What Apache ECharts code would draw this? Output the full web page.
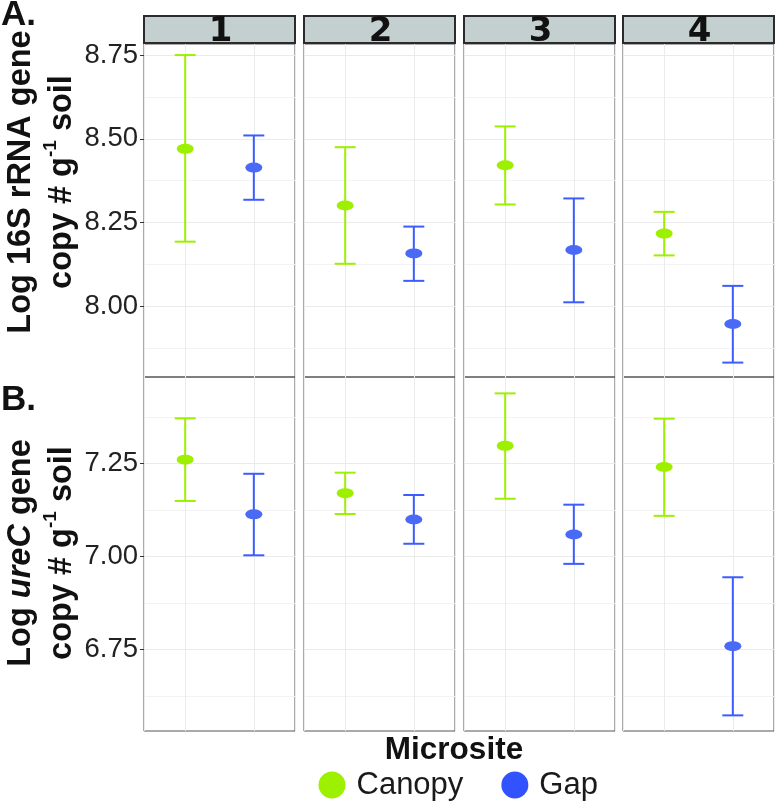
<!DOCTYPE html>
<html><head><meta charset="utf-8">
<script src="https://cdn.jsdelivr.net/npm/echarts@6/dist/echarts.min.js"></script>
<style>html,body{margin:0;padding:0;background:#fff}#c{width:780px;height:801px}</style>
</head><body><div id="c"></div>
<script>
// ---- data ----
const facets = ['1', '2', '3', '4'];
const microsites = ['Canopy', 'Gap'];
const micrositeX = [1, 2];

// Log 16S rRNA gene copy # g-1 soil
const rrnaCanopyMean  = [8.470, 8.301, 8.421, 8.217];
const rrnaCanopyLower = [8.193, 8.127, 8.304, 8.152];
const rrnaCanopyUpper = [8.750, 8.475, 8.537, 8.282];
const rrnaGapMean     = [8.414, 8.158, 8.168, 7.947];
const rrnaGapLower    = [8.318, 8.076, 8.012, 7.832];
const rrnaGapUpper    = [8.510, 8.238, 8.322, 8.061];

// Log ureC gene copy # g-1 soil
const ureCanopyMean  = [7.260, 7.170, 7.297, 7.240];
const ureCanopyLower = [7.149, 7.114, 7.155, 7.109];
const ureCanopyUpper = [7.371, 7.225, 7.438, 7.370];
const ureGapMean     = [7.113, 7.099, 7.059, 6.759];
const ureGapLower    = [7.003, 7.034, 6.980, 6.573];
const ureGapUpper    = [7.222, 7.165, 7.139, 6.944];

const rrnaTicks = [8.00, 8.25, 8.50, 8.75];
const ureTicks  = [6.75, 7.00, 7.25];

// ---- layout / style ----
const FONT = "'Liberation Sans', Arial, sans-serif";
const colLeft = [144, 304, 464, 623];
const colWidth = 151;
const rowTop = [44, 377];
const rowHeight = [333, 354];
const rowRange = [[7.789, 8.783], [6.531, 7.482]];
const stripTop = 16, stripHeight = 27;
const colors = { Canopy: '#9DF000', Gap: '#3D5CFF' };
const pointColors = { Canopy: '#9DF000', Gap: '#4A6AF6' };

const rows = [
  { ticks: rrnaTicks,
    mean: [rrnaCanopyMean, rrnaGapMean],
    lower: [rrnaCanopyLower, rrnaGapLower],
    upper: [rrnaCanopyUpper, rrnaGapUpper] },
  { ticks: ureTicks,
    mean: [ureCanopyMean, ureGapMean],
    lower: [ureCanopyLower, ureGapLower],
    upper: [ureCanopyUpper, ureGapUpper] }
];

const grid = [], xAxis = [], yAxis = [], series = [];
rows.forEach((row, r) => {
  facets.forEach((f, c) => {
    const idx = grid.length;
    grid.push({ left: colLeft[c], top: rowTop[r], width: colWidth, height: rowHeight[r],
      show: true, borderColor: '#555', borderWidth: 1, backgroundColor: 'transparent', containLabel: false });
    xAxis.push({ gridIndex: idx, type: 'value', min: 0.4, max: 2.6, minInterval: 1, maxInterval: 1,
      axisLine: { show: false }, axisTick: { show: false }, axisLabel: { show: false },
      splitLine: { show: true, lineStyle: { color: '#EBEBEB', width: 1 } } });
    yAxis.push({ gridIndex: idx, type: 'value', min: rowRange[r][0], max: rowRange[r][1],
      minInterval: 0.25, maxInterval: 0.25,
      axisLine: { show: false },
      axisTick: { show: c === 0, length: 4, lineStyle: { color: '#333', width: 1 }, customValues: row.ticks },
      axisLabel: { show: c === 0, customValues: row.ticks, formatter: v => v.toFixed(2),
        fontSize: 27.5, color: '#222', margin: 6, fontFamily: FONT },
      splitLine: { show: true, lineStyle: { color: '#EBEBEB', width: 1 } },
      minorTick: { show: false, splitNumber: 2 },
      minorSplitLine: { show: true, lineStyle: { color: '#F3F3F3', width: 1 } } });
    microsites.forEach((m, k) => {
      const col = colors[m];
      series.push({
        type: 'custom', name: m + ' error', coordinateSystem: 'cartesian2d',
        xAxisIndex: idx, yAxisIndex: idx, z: 2, silent: true,
        encode: { x: 0, y: [1, 2] },
        data: [[micrositeX[k], row.lower[k][c], row.upper[k][c]]],
        renderItem: (params, api) => {
          const x = api.value(0);
          const pLo = api.coord([x, api.value(1)]);
          const pHi = api.coord([x, api.value(2)]);
          const hw = 10.5;
          const st = { stroke: col, lineWidth: 2 };
          return { type: 'group', children: [
            { type: 'line', shape: { x1: pLo[0], y1: pLo[1], x2: pHi[0], y2: pHi[1] }, style: st },
            { type: 'line', shape: { x1: pLo[0] - hw, y1: pLo[1], x2: pLo[0] + hw, y2: pLo[1] }, style: st },
            { type: 'line', shape: { x1: pHi[0] - hw, y1: pHi[1], x2: pHi[0] + hw, y2: pHi[1] }, style: st }
          ] };
        }
      });
      series.push({
        type: 'scatter', name: m, xAxisIndex: idx, yAxisIndex: idx, z: 3,
        symbol: 'circle', symbolSize: [17, 10],
        itemStyle: { color: pointColors[m], opacity: 1 },
        data: [[micrositeX[k], row.mean[k][c]]]
      });
    });
  });
});

const graphic = [];
facets.forEach((f, c) => {
  graphic.push({ type: 'rect', shape: { x: colLeft[c], y: stripTop, width: colWidth, height: stripHeight },
    style: { fill: '#C4CFCF', stroke: '#2b2b2b', lineWidth: 2 }, z: 10 });
  graphic.push({ type: 'text', x: colLeft[c] + colWidth / 2 + 1, y: stripTop + stripHeight / 2 + 3, z: 11,
    style: { text: f, fill: '#111', font: "bold 34px 'DejaVu Sans', sans-serif", align: 'center', verticalAlign: 'middle' } });
});
const titleRich = {
  b: { fontSize: 32.5, fontWeight: 'bold', fontFamily: FONT, fill: '#111', lineHeight: 41 },
  bi: { fontSize: 32.5, fontWeight: 'bold', fontStyle: 'italic', fontFamily: FONT, fill: '#111', lineHeight: 41 },
  sup: { fontSize: 19, fontWeight: 'bold', fontFamily: FONT, fill: '#111', lineHeight: 30, verticalAlign: 'top' }
};
graphic.push({ type: 'text', x: 41.5, y: 182, rotation: Math.PI / 2, z: 10,
  style: { text: '{b|Log 16S rRNA gene}\n{b|copy # g}{sup|-1}{b| soil}', rich: titleRich, align: 'center', verticalAlign: 'middle' } });
graphic.push({ type: 'text', x: 41.5, y: 553, rotation: Math.PI / 2, z: 10,
  style: { text: '{b|Log }{bi|ureC}{b| gene}\n{b|copy # g}{sup|-1}{b| soil}', rich: titleRich, align: 'center', verticalAlign: 'middle' } });
graphic.push({ type: 'text', x: 1, y: 15, z: 12,
  style: { text: 'A.', fill: '#111', font: "bold 35px " + FONT, align: 'left', verticalAlign: 'middle' } });
graphic.push({ type: 'text', x: 1, y: 400, z: 12,
  style: { text: 'B.', fill: '#111', font: "bold 35px " + FONT, align: 'left', verticalAlign: 'middle' } });
graphic.push({ type: 'text', x: 454, y: 750, z: 12,
  style: { text: 'Microsite', fill: '#111', font: "bold 31.5px " + FONT, align: 'center', verticalAlign: 'middle' } });

const chart = echarts.init(document.getElementById('c'), null, { renderer: 'canvas' });
chart.setOption({
  animation: false,
  backgroundColor: '#fff',
  grid, xAxis, yAxis, series, graphic,
  legend: {
    data: [{ name: 'Canopy', itemStyle: { color: colors.Canopy } }, { name: 'Gap', itemStyle: { color: '#3352FF' } }],
    left: 318.5, top: 769.5, orient: 'horizontal', padding: 0,
    icon: 'circle', itemWidth: 39, itemHeight: 27, itemGap: 38,
    textStyle: { fontSize: 31, color: '#1a1a1a', fontFamily: FONT },
    selectedMode: false
  }
});
</script></body></html>
